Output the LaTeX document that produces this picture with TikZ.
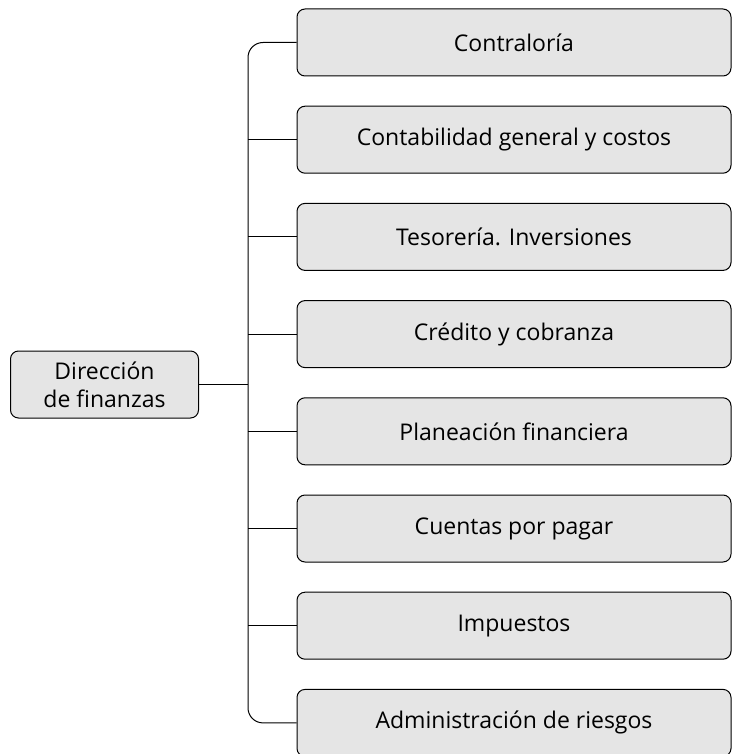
\documentclass[tikz,border=0pt]{standalone}
\usepackage{fontspec}
\setmainfont{Open Sans}
\definecolor{BoxGray}{RGB}{229,229,229}
\usetikzlibrary{positioning}

\begin{document}
\begin{tikzpicture}[
  x=1pt, y=-1pt,
  unitbox/.style={rectangle, rounded corners=8pt, draw=black, fill=BoxGray, minimum width=434pt, minimum height=67pt, font=\fontsize{23}{28}\selectfont, align=center, line width=1pt, inner sep=0pt},
  headbox/.style={unitbox, minimum width=188pt},
  link/.style={line width=1pt, black}
]
\useasboundingbox (0,0) rectangle (733,754);

% Head node
\node[headbox] (dir) at (104.5,384.5) {Dirección\\de finanzas};

% Departments
\node[unitbox] (contra) at (514,42.5) {Contraloría};
\node[unitbox] (conta) at (514,139.7) {Contabilidad general y costos};
\node[unitbox] (teso) at (514,236.9) {Tesorería. Inversiones};
\node[unitbox] (cred) at (514,334.1) {Crédito y cobranza};
\node[unitbox] (plan) at (514,431.3) {Planeación financiera};
\node[unitbox] (cxp) at (514,528.5) {Cuentas por pagar};
\node[unitbox] (imp) at (514,625.7) {Impuestos};
\node[unitbox] (riesgo) at (514,722.9) {Administración de riesgos};

% Trunk
\coordinate (trunk) at (248,384.5);
\draw[link] (dir.east) -- (trunk);
\draw[link, rounded corners=15pt] (contra.west) -| (trunk) |- (riesgo.west);
\draw[link] (conta.west) -- (conta.west -| trunk);
\draw[link] (teso.west) -- (teso.west -| trunk);
\draw[link] (cred.west) -- (cred.west -| trunk);
\draw[link] (plan.west) -- (plan.west -| trunk);
\draw[link] (cxp.west) -- (cxp.west -| trunk);
\draw[link] (imp.west) -- (imp.west -| trunk);

\end{tikzpicture}
\end{document}
